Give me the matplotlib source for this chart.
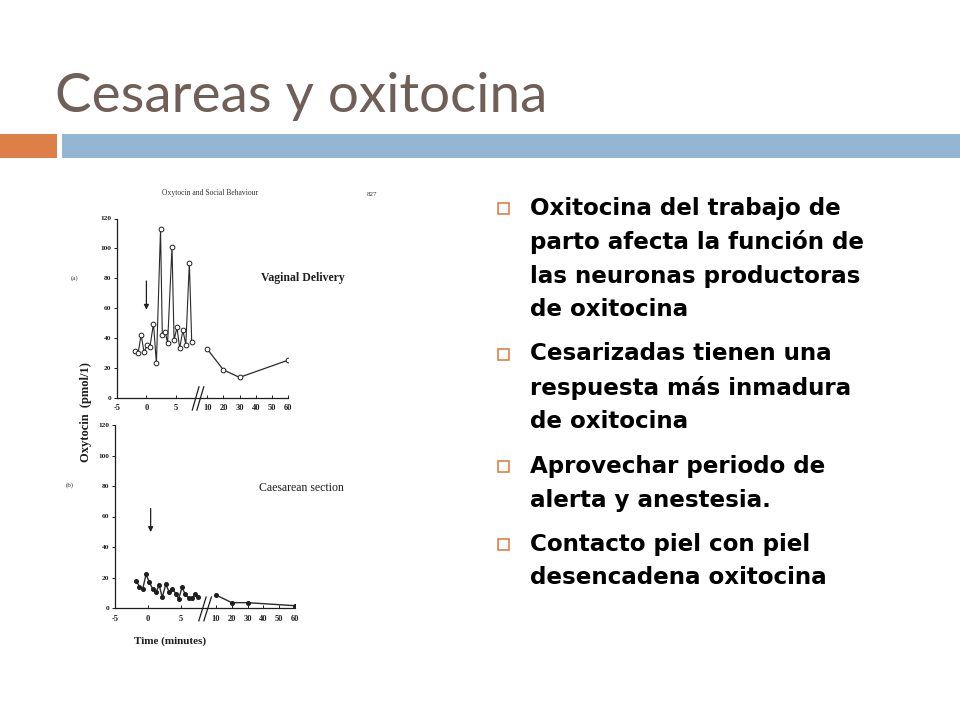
import numpy as np
import matplotlib
matplotlib.use("Agg")
import matplotlib.pyplot as plt
from matplotlib.patches import Rectangle
from matplotlib.transforms import blended_transform_factory

# --- data ---
vag_t_early = [-1.9, -1.4, -0.9, -0.4, 0.1, 0.6, 1.2, 1.7, 2.4, 2.7, 3.2, 3.6,
               4.35, 4.7, 5.2, 5.65, 6.2, 6.7, 7.3, 7.7]
vag_y_early = [31, 30, 42, 30.5, 35, 34, 49.5, 23, 113, 42, 44, 36.5,
               101, 38.5, 47, 33, 45, 35.5, 90.5, 37.5]
vag_t_late = [10, 20, 30, 60]
vag_y_late = [32.5, 18.5, 13.5, 25]

ces_t_early = [-1.8, -1.3, -0.8, -0.3, 0.2, 0.7, 1.2, 1.7, 2.15, 2.7, 3.2, 3.7,
               4.2, 4.65, 5.15, 5.65, 6.15, 6.65, 7.15, 7.65]
ces_y_early = [18, 14, 12.5, 22, 17, 12.5, 10.5, 15, 7, 15.5, 10.5, 12.5,
               9.5, 6, 13.5, 9, 6.5, 6.5, 9, 7.5]
ces_t_late = [10, 20, 30, 60]
ces_y_late = [8.5, 3.5, 3.5, 1.5]

x_ticks = [-5, 0, 5, 10, 20, 30, 40, 50, 60]
y_ticks = [0, 20, 40, 60, 80, 100, 120]

title = "Cesareas y oxitocina"
bullets = [
    ["Oxitocina del trabajo de", "parto afecta la función de",
     "las neuronas productoras", "de oxitocina"],
    ["Cesarizadas tienen una", "respuesta más inmadura", "de oxitocina"],
    ["Aprovechar periodo de", "alerta y anestesia."],
    ["Contacto piel con piel", "desencadena oxitocina"],
]

W, H = 960, 720
fig = plt.figure(figsize=(9.6, 7.2), dpi=100)
fig.patch.set_facecolor("white")


def px(x, y):
    return x / W, 1 - y / H


def add_rect(x, y, w, h, **kw):
    fig.add_artist(Rectangle(px(x, y + h), w / W, h / H,
                             transform=fig.transFigure, **kw))


# header
fig.text(*px(55, 112), title, fontsize=39.5, color="#6f5f57", family="Lato",
         ha="left", va="baseline")
add_rect(0, 134, 57, 24, color="#dd8047", lw=0)
add_rect(62, 134, 898, 24, color="#94b6d2", lw=0)

# bullets
y = 208
for group in bullets:
    add_rect(498, y - 5, 11, 11, fill=False, ec="#dd8047", lw=1.2)
    for line in group:
        fig.text(*px(530, y), line, fontsize=16.6, fontweight="bold",
                 family="DejaVu Sans", color="black", va="center", ha="left")
        y += 34
    y += 10

serif = "Liberation Serif"
ink = "#1e1e1e"


def make_scale(pos10, pos60):
    src = [-100, -5, 8, 10, 60, 300]
    dst = [-100, -5, 8, pos10, pos60, pos60 + (300 - 60) * (pos60 - pos10) / 50]
    fwd = lambda v: np.interp(v, src, dst)
    inv = lambda v: np.interp(v, dst, src)
    return fwd, inv


def setup_panel(ax, pos10, pos60, brk):
    ax.set_xscale("function", functions=make_scale(pos10, pos60))
    ax.set_xlim(-5, 60)
    ax.set_ylim(0, 120)
    ax.patch.set_alpha(0)
    for s in ["top", "right"]:
        ax.spines[s].set_visible(False)
    for s in ["left", "bottom"]:
        ax.spines[s].set_linewidth(0.9)
        ax.spines[s].set_color(ink)
    ax.set_xticks(x_ticks)
    ax.set_xticklabels([str(t) for t in x_ticks], fontsize=6,
                       fontweight="bold", family=serif)
    ax.set_yticks(y_ticks)
    ax.set_yticklabels([str(t) for t in y_ticks], fontsize=5.3,
                       fontweight="bold", family=serif)
    ax.tick_params(axis="y", length=2.5, width=0.7, pad=1.5, colors=ink)
    ax.tick_params(axis="x", length=2, width=0.7, pad=5, direction="in",
                   colors=ink)
    tr = blended_transform_factory(ax.transData, ax.transAxes)
    for dx in [0, 0.7]:
        ax.plot([brk - 0.5 + dx, brk + 0.5 + dx], [-0.07, 0.06], color=ink,
                lw=0.9, transform=tr, clip_on=False)


# panel (a)
ax1 = fig.add_axes([117 / W, 1 - 397.5 / H, 171 / W, 179 / H])
setup_panel(ax1, 10.34, 24.07, 8.3)
ax1.plot(vag_t_early, vag_y_early, "-o", color="#2a2a2a", lw=0.8, ms=3.4,
         mfc="white", mec=ink, mew=0.7)
ax1.plot(vag_t_late, vag_y_late, "-o", color="#2a2a2a", lw=0.9, ms=3.4,
         mfc="white", mec=ink, mew=0.7)
ax1.annotate("", xy=(0, 57), xytext=(0, 80),
             arrowprops=dict(arrowstyle="-|>", color=ink, lw=0.9,
                             mutation_scale=7))

# panel (b)
ax2 = fig.add_axes([115 / W, 1 - 608 / H, 180 / W, 183 / H])
setup_panel(ax2, 10.3, 22.27, 8.2)
ax2.plot(ces_t_early, ces_y_early, "-o", color="#2a2a2a", lw=1.0, ms=2.6,
         mfc=ink, mec=ink)
ax2.plot(ces_t_late, ces_y_late, "-o", color="#2a2a2a", lw=1.0, ms=2.6,
         mfc=ink, mec=ink)
ax2.annotate("", xy=(0.4, 48), xytext=(0.4, 67),
             arrowprops=dict(arrowstyle="-|>", color=ink, lw=0.9,
                             mutation_scale=7))

# scan annotations
fig.text(*px(210, 193), "Oxytocin and Social Behaviour", fontsize=5.5,
         family=serif, color="#333333", ha="center", va="center")
fig.text(*px(372, 195), "827", fontsize=5, family=serif, color="#333333",
         ha="center", va="center")
fig.text(*px(75, 278), "(a)", fontsize=5, family=serif, color="#333333",
         ha="center", va="center")
fig.text(*px(70, 485), "(b)", fontsize=5, family=serif, color="#333333",
         ha="center", va="center")
fig.text(*px(303, 278), "Vaginal Delivery", fontsize=8.5, fontweight="bold",
         family=serif, color=ink, ha="center", va="center")
fig.text(*px(301, 488), "Caesarean section", fontsize=8.5, family=serif,
         color=ink, ha="center", va="center")
fig.text(*px(170, 641), "Time (minutes)", fontsize=8, fontweight="bold",
         family=serif, color=ink, ha="center", va="center")
fig.text(*px(86, 412), "Oxytocin  (pmol/1)", fontsize=9, fontweight="bold",
         family=serif, color=ink, ha="center", va="center", rotation=90)

fig.savefig("out.png", dpi=100)
